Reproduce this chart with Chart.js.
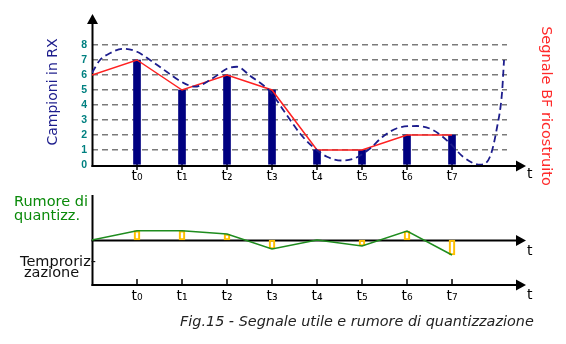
<!DOCTYPE html>
<html><head><meta charset="utf-8">
<script src="https://cdn.jsdelivr.net/npm/chart.js@4"></script>
<style>
html,body{margin:0;padding:0;background:#fff;}
#wrap{position:relative;width:566px;height:344px;overflow:hidden;background:#fff;}
canvas{position:absolute;left:0;}
#top{top:0}
#bot{top:188px}
</style></head><body>
<div id="wrap"><canvas id="top" width="566" height="188"></canvas><canvas id="bot" width="566" height="156"></canvas></div>
<script>
// ---- data ----
const sampleIdx = [0, 1, 2, 3, 4, 5, 6, 7];
const tickLabels = ['t₀', 't₁', 't₂', 't₃', 't₄', 't₅', 't₆', 't₇'];
const sampleValues = [7, 5, 6, 5, 1, 1, 2, 2];
const reconX = [-1, 0, 1, 2, 3, 4, 5, 6, 7];
const reconY = [6, 7, 5, 6, 5, 1, 1, 2, 2];
const signalX = [-1.0, -0.822, -0.6, -0.311, 0, 0.289, 0.667, 0.956, 1.289, 1.689, 2.022, 2.222, 2.511, 2.956, 3.289, 3.622, 3.911, 4.222, 4.556, 4.844, 5.178, 5.467, 5.778, 6.222, 6.578, 6.956, 7.244, 7.622, 7.844, 8.0, 8.111, 8.156];
const signalY = [6.15, 7.0, 7.45, 7.75, 7.55, 7.0, 6.2, 5.6, 5.22, 5.8, 6.45, 6.55, 5.95, 4.9, 3.5, 2.1, 1.2, 0.55, 0.3, 0.45, 1.1, 1.9, 2.45, 2.6, 2.33, 1.45, 0.55, 0.02, 0.55, 2.5, 4.8, 7.0];
const levelTicks = [0, 1, 2, 3, 4, 5, 6, 7, 8];
const noiseX = [-1, 0, 1, 2, 3, 4, 5, 6, 7];
const noiseY = [0, 0.62, 0.62, 0.4, -0.6, 0, -0.4, 0.6, -1.0];

Chart.defaults.font.family = '"DejaVu Sans", sans-serif';
Chart.defaults.color = '#000';

function arrowH(ctx, x0, xTip, y) {
  ctx.beginPath(); ctx.moveTo(x0, y); ctx.lineTo(xTip - 8, y); ctx.stroke();
  ctx.beginPath(); ctx.moveTo(xTip, y); ctx.lineTo(xTip - 10, y - 5.5); ctx.lineTo(xTip - 10, y + 5.5); ctx.closePath(); ctx.fill();
}
function arrowV(ctx, x, y0, yTip) {
  ctx.beginPath(); ctx.moveTo(x, y0); ctx.lineTo(x, yTip + 8); ctx.stroke();
  ctx.beginPath(); ctx.moveTo(x, yTip); ctx.lineTo(x - 5.5, yTip + 10); ctx.lineTo(x + 5.5, yTip + 10); ctx.closePath(); ctx.fill();
}

const xScaleBase = (h) => ({
  type: 'linear', min: -1, max: 8.222, offset: false,
  grid: { display: false, offset: false }, border: { display: false },
  afterBuildTicks: s => { s.ticks = sampleIdx.map(v => ({ value: v })); },
  afterFit: s => { s.height = h; },
  ticks: { autoSkip: false, maxRotation: 0, padding: -5, font: { size: 14 }, color: '#000',
           callback: v => tickLabels[v] }
});

const topDeco = {
  id: 'topDeco',
  beforeDatasetsDraw(chart) {
    const { ctx, scales: { x, y } } = chart;
    const x0 = x.getPixelForValue(-1) + 0.5;
    const y0 = y.getPixelForValue(0) + 1;
    ctx.save();
    ctx.strokeStyle = '#000'; ctx.fillStyle = '#000'; ctx.lineWidth = 2;
    arrowH(ctx, x0 - 1, x.getPixelForValue(8.644), y0);
    arrowV(ctx, x0, y0 + 1, y.getPixelForValue(10.07));
    ctx.lineWidth = 1.5;
    sampleIdx.forEach(i => {
      const px = x.getPixelForValue(i);
      ctx.beginPath(); ctx.moveTo(px, y0 - 4); ctx.lineTo(px, y0 + 4); ctx.stroke();
    });
    ctx.restore();
  },
  afterDraw(chart) {
    const { ctx } = chart;
    ctx.save();
    ctx.font = '14px "DejaVu Sans"';
    ctx.fillStyle = '#000'; ctx.textAlign = 'left'; ctx.textBaseline = 'alphabetic';
    ctx.fillText('t', 527, 178);
    ctx.save();
    ctx.translate(53, 92); ctx.rotate(-Math.PI / 2);
    ctx.textAlign = 'center'; ctx.textBaseline = 'middle'; ctx.fillStyle = '#1c1c8c';
    ctx.fillText('Campioni in RX', 0, 0);
    ctx.restore();
    ctx.save();
    ctx.translate(546, 106); ctx.rotate(Math.PI / 2);
    ctx.font = '14.5px "DejaVu Sans"';
    ctx.textAlign = 'center'; ctx.textBaseline = 'middle'; ctx.fillStyle = '#ff2a2a';
    ctx.fillText('Segnale BF ricostruito', 0, 0);
    ctx.restore();
    ctx.restore();
  }
};

new Chart(document.getElementById('top'), {
  type: 'line',
  data: {
    datasets: [
      { type: 'line', data: signalX.map((v, i) => ({ x: v, y: signalY[i] })),
        borderColor: '#1c1c8c', borderWidth: 1.8, borderDash: [7, 4], pointRadius: 0,
        cubicInterpolationMode: 'monotone', fill: false },
      { type: 'line', data: reconX.map((v, i) => ({ x: v, y: reconY[i] })),
        borderColor: '#ff2020', borderWidth: 1.5, pointRadius: 0, tension: 0, fill: false },
      { type: 'bar', data: sampleIdx.map((v, i) => ({ x: v, y: sampleValues[i] })),
        backgroundColor: '#000080', borderWidth: 0, barThickness: 7 }
    ]
  },
  options: {
    responsive: false, animation: false, devicePixelRatio: 1,
    layout: { padding: { left: 0, top: 15, right: 59, bottom: 0 } },
    plugins: { legend: { display: false }, tooltip: { enabled: false } },
    scales: {
      x: xScaleBase(23),
      y: {
        type: 'linear', min: 0, max: 10,
        afterBuildTicks: s => { s.ticks = levelTicks.map(v => ({ value: v })); },
        afterFit: s => { s.width = 92; },
        border: { display: false, dash: [6, 4] },
        grid: { drawTicks: false, lineWidth: 1.5,
                color: c => (c.tick && c.tick.value === 0) ? 'rgba(0,0,0,0)' : '#7a7a7a' },
        ticks: { padding: 5, color: '#008080',
                 font: { family: '"Liberation Sans"', weight: 'bold', size: 10.5 } }
      }
    }
  },
  plugins: [topDeco]
});

const botDeco = {
  id: 'botDeco',
  beforeDatasetsDraw(chart) {
    const { ctx, chartArea, scales: { x, y } } = chart;
    const x0 = x.getPixelForValue(-1) + 0.5;
    const yMid = y.getPixelForValue(0) + 0.5;
    const yBot = chartArea.bottom;
    const tip = x.getPixelForValue(8.644);
    ctx.save();
    ctx.strokeStyle = '#000'; ctx.fillStyle = '#000'; ctx.lineWidth = 2;
    ctx.beginPath(); ctx.moveTo(x0, chartArea.top); ctx.lineTo(x0, yBot + 1); ctx.stroke();
    arrowH(ctx, x0 - 1, tip, yMid);
    arrowH(ctx, x0 - 1, tip, yBot);
    ctx.lineWidth = 1.5;
    sampleIdx.forEach(i => {
      const px = x.getPixelForValue(i);
      ctx.beginPath(); ctx.moveTo(px, yBot - 6); ctx.lineTo(px, yBot); ctx.stroke();
    });
    ctx.restore();
  },
  afterDraw(chart) {
    const { ctx } = chart;
    ctx.save();
    ctx.textAlign = 'left'; ctx.textBaseline = 'alphabetic';
    ctx.font = '14px "DejaVu Sans"'; ctx.fillStyle = '#000';
    ctx.fillText('t', 527, 67);
    ctx.fillText('t', 527, 111);
    ctx.font = '14.5px "DejaVu Sans"'; ctx.fillStyle = '#0a8a0a';
    ctx.fillText('Rumore di', 14, 18);
    ctx.fillText('quantizz.', 14, 32);
    ctx.fillStyle = '#111';
    ctx.fillText('Temproriz-', 20, 78);
    ctx.fillText('zazione', 24, 89);
    ctx.font = 'italic 14.4px "DejaVu Sans"'; ctx.fillStyle = '#222';
    ctx.fillText('Fig.15 - Segnale utile e rumore di quantizzazione', 180, 138);
    ctx.restore();
  }
};

new Chart(document.getElementById('bot'), {
  type: 'line',
  data: {
    datasets: [
      { type: 'line', data: noiseX.map((v, i) => ({ x: v, y: noiseY[i] })),
        borderColor: '#1e8c1e', borderWidth: 1.5, pointRadius: 0, tension: 0, fill: false },
      { type: 'bar', data: sampleIdx.map(v => ({ x: v, y: [0, noiseY[noiseX.indexOf(v)]] })),
        backgroundColor: 'rgba(255,255,255,0)', borderColor: '#ffc000', borderWidth: 1.5,
        borderSkipped: false, barThickness: 6 }
    ]
  },
  options: {
    responsive: false, animation: false, devicePixelRatio: 1,
    layout: { padding: { left: 0, top: 7, right: 59, bottom: 0 } },
    plugins: { legend: { display: false }, tooltip: { enabled: false } },
    scales: {
      x: xScaleBase(59),
      y: {
        type: 'linear', min: -3, max: 3,
        afterFit: s => { s.width = 92; },
        border: { display: false }, grid: { display: false },
        ticks: { display: false }
      }
    }
  },
  plugins: [botDeco]
});
</script>
</body></html>
